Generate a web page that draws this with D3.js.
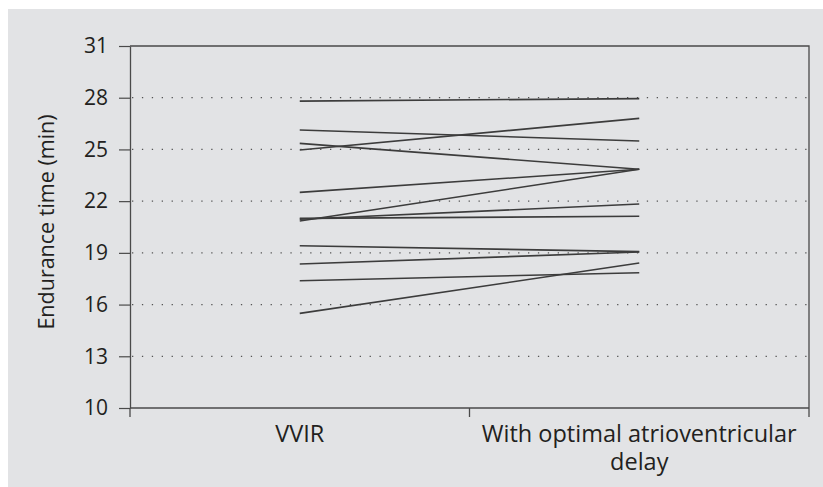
<!DOCTYPE html>
<html>
<head>
<meta charset="utf-8">
<script src="https://cdn.jsdelivr.net/npm/d3@7"></script>
<style>
  html, body { margin: 0; padding: 0; background: #ffffff; }
  svg { display: block; }
  text { font-family: "Open Sans", "Noto Sans", sans-serif; fill: #231f20; }
</style>
</head>
<body>
<svg id="chart" width="823" height="487"></svg>
<script>
// Pacing conditions on the x axis
const conditions = ["VVIR", "With optimal atrioventricular delay"];
const conditionLines = [["VVIR"], ["With optimal atrioventricular", "delay"]];

// Endurance time (min) for each patient under each condition
const vvir = [27.8, 26.13, 25.35, 24.97, 22.51, 20.85, 20.95, 21.0, 19.41, 18.35, 17.38, 15.49];
const optimalAV = [27.95, 25.49, 23.85, 26.8, 23.85, 23.85, 21.83, 21.12, 19.07, 19.05, 17.85, 18.41];

// Y axis ticks
const yTicks = [10, 13, 16, 19, 22, 25, 28, 31];
const gridTicks = [13, 16, 19, 22, 25, 28];

const svg = d3.select("#chart");

// Grey panel behind the chart
svg.append("rect")
  .attr("x", 8).attr("y", 9)
  .attr("width", 815).attr("height", 478)
  .attr("fill", "#e2e3e5");

const plotLeft = 130, plotRight = 809, plotTop = 46, plotBottom = 408;

const x = d3.scaleBand().domain(conditions).range([plotLeft, plotRight]).padding(0);
const y = d3.scaleLinear().domain([10, 31]).range([plotBottom, plotTop]);

// Dotted horizontal gridlines
svg.append("g")
  .selectAll("line")
  .data(gridTicks)
  .join("line")
  .attr("x1", plotLeft + 2).attr("x2", plotRight)
  .attr("y1", d => y(d)).attr("y2", d => y(d))
  .attr("stroke", "#555")
  .attr("stroke-width", 1.3)
  .attr("stroke-dasharray", "1.3,8.6");

// Frame: top and right borders
svg.append("path")
  .attr("d", `M${plotLeft},${plotTop}H${plotRight}V${plotBottom}`)
  .attr("fill", "none")
  .attr("stroke", "#4a4a4a")
  .attr("stroke-width", 1.3);

// Y axis
const yAxis = svg.append("g")
  .attr("transform", `translate(${plotLeft},0)`)
  .call(d3.axisLeft(y).tickValues(yTicks).tickSize(11).tickSizeOuter(0).tickPadding(11));
yAxis.select(".domain").attr("stroke", "#4a4a4a").attr("stroke-width", 1.3);
yAxis.selectAll(".tick line").attr("stroke", "#4a4a4a").attr("stroke-width", 1.2);
yAxis.selectAll(".tick text")
  .attr("font-size", 21)
  .attr("font-family", "\"Open Sans\", sans-serif")
  .attr("fill", "#231f20");

// X axis line and band-boundary ticks
svg.append("line")
  .attr("x1", plotLeft).attr("x2", plotRight)
  .attr("y1", plotBottom).attr("y2", plotBottom)
  .attr("stroke", "#4a4a4a").attr("stroke-width", 1.3);
const boundaries = conditions.map(c => x(c)).concat([x(conditions[conditions.length - 1]) + x.bandwidth()]);
svg.append("g")
  .selectAll("line")
  .data(boundaries)
  .join("line")
  .attr("x1", d => d).attr("x2", d => d)
  .attr("y1", plotBottom).attr("y2", plotBottom + 9)
  .attr("stroke", "#4a4a4a").attr("stroke-width", 1.3);

// Category labels, one text element per line
const cx = c => x(c) + x.bandwidth() / 2;
conditions.forEach((c, i) => {
  conditionLines[i].forEach((ln, j) => {
    svg.append("text")
      .attr("x", cx(c))
      .attr("y", 442 + j * 28)
      .attr("text-anchor", "middle")
      .attr("font-size", 23.5)
      .text(ln);
  });
});

// Y axis title
svg.append("text")
  .attr("transform", "translate(54,222) rotate(-90)")
  .attr("text-anchor", "middle")
  .attr("font-size", 21.5)
  .text("Endurance time (min)");

// One line per patient
const pairs = vvir.map((v, i) => [v, optimalAV[i]]);
svg.append("g")
  .selectAll("line")
  .data(pairs)
  .join("line")
  .attr("x1", cx(conditions[0]))
  .attr("x2", cx(conditions[1]))
  .attr("y1", d => y(d[0]))
  .attr("y2", d => y(d[1]))
  .attr("stroke", "#3c3c3c")
  .attr("stroke-width", 1.6);
</script>
</body>
</html>
